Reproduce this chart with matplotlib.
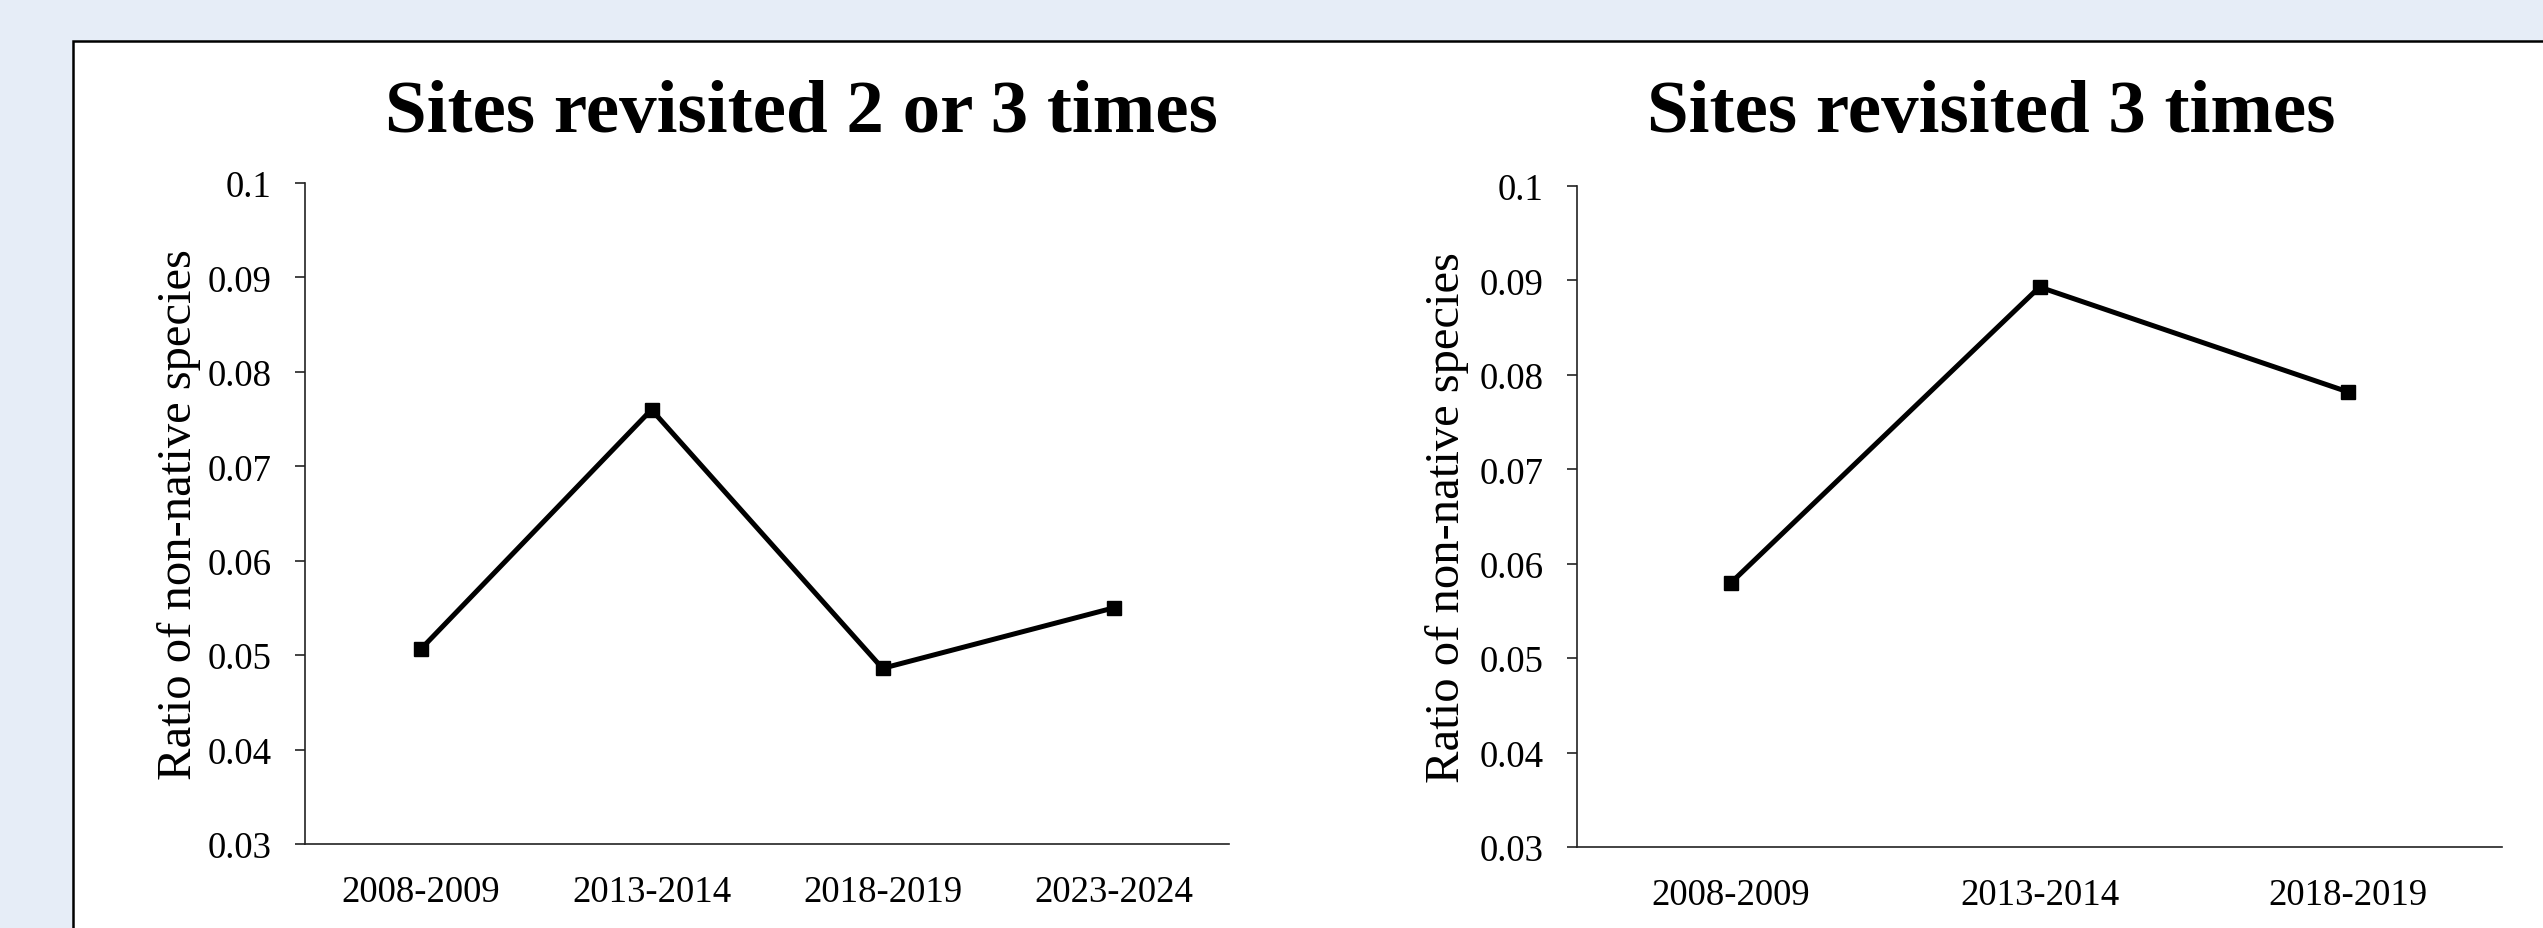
import matplotlib
matplotlib.use("Agg")
import matplotlib.pyplot as plt
from matplotlib.patches import Rectangle

# data
periods_left = ["2008-2009", "2013-2014", "2018-2019", "2023-2024"]
ratio_left = [0.0506, 0.0760, 0.0486, 0.0550]

periods_right = ["2008-2009", "2013-2014", "2018-2019"]
ratio_right = [0.0580, 0.0893, 0.0782]

titles = ["Sites revisited 2 or 3 times", "Sites revisited 3 times"]
y_label = "Ratio of non-native species"
y_ticks = [0.03, 0.04, 0.05, 0.06, 0.07, 0.08, 0.09, 0.1]
y_tick_labels = ["0.03", "0.04", "0.05", "0.06", "0.07", "0.08", "0.09", "0.1"]

W, H = 2543, 929
DPI = 100
plt.rcParams["font.family"] = ["Liberation Serif", "DejaVu Serif"]

fig = plt.figure(figsize=(W / DPI, H / DPI), dpi=DPI)
fig.patch.set_facecolor("#E6EDF7")

# white card with black border running off the right/bottom edge
fig.patches.append(Rectangle((73 / W, -0.1), 1.2, 1 - 42 / H + 0.1,
                             transform=fig.transFigure, facecolor="white",
                             edgecolor="black", linewidth=1.8, zorder=-5))


def px_rect(x0, x1, ytop, ybot):
    return [x0 / W, 1 - ybot / H, (x1 - x0) / W, (ybot - ytop) / H]


def draw_panel(rect, periods, values, title, title_x, label_x):
    ax = fig.add_axes(rect)
    ax.set_zorder(2)
    ax.set_facecolor("none")
    xs = list(range(len(periods)))
    ax.plot(xs, values, color="black", linewidth=3.6, marker="s",
            markersize=10.5, solid_joinstyle="miter")
    ax.set_xlim(-0.5, len(periods) - 0.5)
    ax.set_ylim(0.03, 0.1)
    ax.set_yticks(y_ticks)
    ax.set_yticklabels(y_tick_labels)
    ax.set_xticks(xs)
    ax.set_xticklabels(periods)
    for s in ("top", "right"):
        ax.spines[s].set_visible(False)
    for s in ("left", "bottom"):
        ax.spines[s].set_linewidth(1.2)
        ax.spines[s].set_color("#222222")
    ax.tick_params(axis="y", direction="out", length=7, width=1.2,
                   color="#222222", labelsize=26.5, pad=17)
    ax.tick_params(axis="x", length=0, labelsize=26.5, pad=22)
    ax.set_ylabel(y_label, fontsize=35)
    ax.yaxis.set_label_coords(label_x, 0.5)
    fig.text(title_x / W, 1 - 132 / H, title, ha="center", va="baseline",
             fontsize=54, fontweight="bold", zorder=3)
    return ax


draw_panel(px_rect(305, 1229, 184, 845), periods_left, ratio_left,
           titles[0], 801, -0.113)
draw_panel(px_rect(1577, 2502, 187, 848), periods_right, ratio_right,
           titles[1], 1991, -0.117)

fig.savefig("out.png", dpi=DPI, facecolor=fig.get_facecolor())
